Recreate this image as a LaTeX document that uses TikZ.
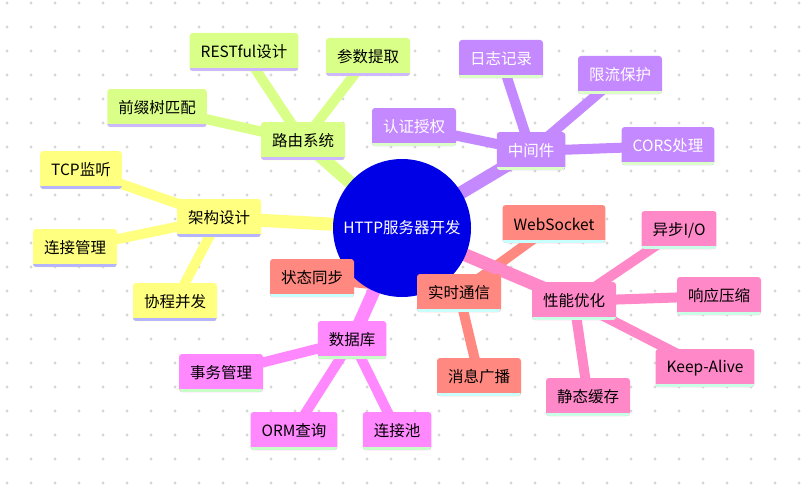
\documentclass[tikz,border=0pt]{standalone}
\usepackage{fontspec}
\setmainfont{Noto Sans CJK SC}
\usepackage{tikz}
\usetikzlibrary{backgrounds}
\definecolor{dotgray}{HTML}{D6D6D6}
\definecolor{hubblue}{HTML}{0000E6}
\definecolor{archfill}{HTML}{FFFF80}
\definecolor{archline}{HTML}{B4B4FF}
\definecolor{routefill}{HTML}{D9FF88}
\definecolor{routeline}{HTML}{CDB8FF}
\definecolor{midfill}{HTML}{C488FF}
\definecolor{midline}{HTML}{DCFFC8}
\definecolor{livefill}{HTML}{FF8880}
\definecolor{liveline}{HTML}{C8FFFF}
\definecolor{perffill}{HTML}{FF88C8}
\definecolor{perfline}{HTML}{C8FFE6}
\definecolor{dbfill}{HTML}{FF88FF}
\definecolor{dbline}{HTML}{C8FFC8}
\tikzset{
  underbar/.style={path picture={\fill[#1,sharp corners] (path picture bounding box.south west) rectangle ([yshift=3pt]path picture bounding box.south east);}},
  topic/.style={rounded corners=3pt,minimum height=38pt,inner xsep=11pt,inner ysep=0pt,font=\fontsize{15.5}{18}\selectfont},
  archbox/.style={topic,fill=archfill,underbar=archline},
  routebox/.style={topic,fill=routefill,underbar=routeline},
  midbox/.style={topic,fill=midfill,text=white,underbar=midline},
  livebox/.style={topic,fill=livefill,underbar=liveline},
  perfbox/.style={topic,fill=perffill,underbar=perfline},
  dbbox/.style={topic,fill=dbfill,underbar=dbline},
  trunk/.style={line width=13pt},
  twig/.style={line width=10pt}
}
\begin{document}
\begin{tikzpicture}[x=1pt,y=-1pt]
\useasboundingbox (0,0) rectangle (810,487);
\node[circle,fill=hubblue,text=white,minimum size=138pt,inner sep=0pt,font=\fontsize{15.5}{18}\selectfont] (hub) at (402,228) {HTTP服务器开发};
\node[archbox] (arch) at (219,218) {架构设计};
\node[archbox] (tcp) at (81,170) {TCP监听};
\node[archbox] (connmgr) at (75,248) {连接管理};
\node[archbox] (coro) at (175,302) {协程并发};
\node[routebox] (route) at (303,141) {路由系统};
\node[routebox] (rest) at (244,52) {RESTful设计};
\node[routebox] (param) at (368,57) {参数提取};
\node[routebox] (trie) at (157,108) {前缀树匹配};
\node[midbox] (mid) at (531,151) {中间件};
\node[midbox] (auth) at (414,127) {认证授权};
\node[midbox] (log) at (501,59) {日志记录};
\node[midbox] (limit) at (620,75) {限流保护};
\node[midbox] (cors) at (668,146) {CORS处理};
\node[livebox] (live) at (459,293) {实时通信};
\node[livebox] (ws) at (554,224) {WebSocket};
\node[livebox] (bcast) at (479,377) {消息广播};
\node[livebox] (sync) at (312,278) {状态同步};
\node[perfbox] (perf) at (574,301) {性能优化};
\node[perfbox] (aio) at (679,230) {异步I/O};
\node[perfbox] (gzip) at (719,296) {响应压缩};
\node[perfbox] (keep) at (705,368) {Keep-Alive};
\node[perfbox] (cache) at (588,397) {静态缓存};
\node[dbbox] (db) at (352,340) {数据库};
\node[dbbox] (tx) at (221,373) {事务管理};
\node[dbbox] (orm) at (294,431) {ORM查询};
\node[dbbox] (pool) at (397,431) {连接池};
\begin{scope}[on background layer]
\fill[white] (0,0) rectangle (810,487);
\foreach \i in {0,...,33}
  \foreach \j in {0,...,20}
    \fill[dotgray] ({7+24*\i},{3+24*\j}) circle (1.6pt);
\draw[trunk,archfill] (hub.center) -- (arch.center);
\draw[twig,archfill] (arch.center) -- (tcp.center);
\draw[twig,archfill] (arch.center) -- (connmgr.center);
\draw[twig,archfill] (arch.center) -- (coro.center);
\draw[trunk,routefill] (hub.center) -- (route.center);
\draw[twig,routefill] (route.center) -- (rest.center);
\draw[twig,routefill] (route.center) -- (param.center);
\draw[twig,routefill] (route.center) -- (trie.center);
\draw[trunk,midfill] (hub.center) -- (mid.center);
\draw[twig,midfill] (mid.center) -- (auth.center);
\draw[twig,midfill] (mid.center) -- (log.center);
\draw[twig,midfill] (mid.center) -- (limit.center);
\draw[twig,midfill] (mid.center) -- (cors.center);
\draw[trunk,livefill] (hub.center) -- (live.center);
\draw[twig,livefill] (live.center) -- (ws.center);
\draw[twig,livefill] (live.center) -- (bcast.center);
\draw[twig,livefill] (live.center) -- (sync.center);
\draw[trunk,perffill] (hub.center) -- (perf.center);
\draw[twig,perffill] (perf.center) -- (aio.center);
\draw[twig,perffill] (perf.center) -- (gzip.center);
\draw[twig,perffill] (perf.center) -- (keep.center);
\draw[twig,perffill] (perf.center) -- (cache.center);
\draw[trunk,dbfill] (hub.center) -- (db.center);
\draw[twig,dbfill] (db.center) -- (tx.center);
\draw[twig,dbfill] (db.center) -- (orm.center);
\draw[twig,dbfill] (db.center) -- (pool.center);
\end{scope}
\end{tikzpicture}
\end{document}
